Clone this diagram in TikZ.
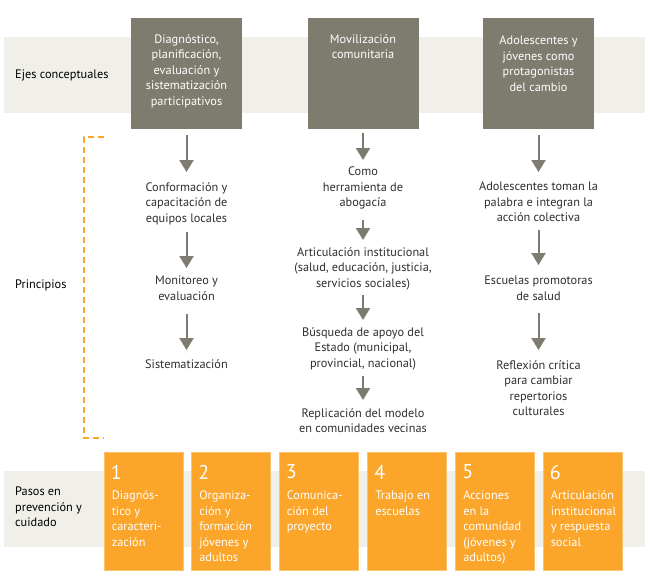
\documentclass[tikz,border=0pt]{standalone}
\usepackage{fontspec}
\setmainfont{PT Sans}
\usetikzlibrary{arrows.meta}
\definecolor{band}{HTML}{F0EFE9}
\definecolor{olive}{HTML}{7D7C6E}
\definecolor{orng}{HTML}{FBA52A}
\definecolor{orngedge}{HTML}{FDC26C}
\definecolor{txt}{HTML}{2E2E2E}
\tikzset{
  darkbox/.style={fill=olive, draw=none, minimum width=111pt, minimum height=111pt, inner sep=0pt},
  boxtext/.style={text=white, align=center, inner sep=0pt, anchor=north, font=\fontsize{12.3}{15.5}\selectfont},
  coltext/.style={text=txt, align=center, inner sep=0pt, anchor=north, font=\fontsize{12.3}{15.5}\selectfont},
  sidetext/.style={text=black, align=left, inner sep=0pt, font=\fontsize{12.3}{15.5}\selectfont},
  stepbox/.style={fill=orng, draw=orngedge, line width=0.8pt, minimum width=79pt, minimum height=118pt, inner sep=0pt},
  stepnum/.style={text=white, inner sep=0pt, anchor=north west, font=\fontsize{20}{20}\selectfont},
  steptext/.style={text=white, align=left, inner sep=0pt, anchor=north west, font=\fontsize{12.3}{15.5}\selectfont},
  arr/.style={draw=olive, line width=2pt, -{Triangle[width=14pt,length=12pt]}},
  bracket/.style={draw=orng, line width=2pt, dash pattern=on 6pt off 4pt}
}
\begin{document}
\begin{tikzpicture}[x=1pt,y=-1pt]
\useasboundingbox (0,0) rectangle (650,579);
% bands
\fill[band] (4,37) rectangle (645,113);
\fill[band] (4,471) rectangle (645,547);
% side labels
\node[sidetext, anchor=west] (l1) at (15,75) {Ejes conceptuales};
\node[sidetext, anchor=west] (l2) at (15,285) {Principios};
\node[sidetext, anchor=north west] (l3) at (15,487) {Pasos en\\prevención y\\cuidado};
% dark boxes
\node[darkbox] (b1) at (186.5,73.5) {};
\node[darkbox] (b2) at (363,73.5) {};
\node[darkbox] (b3) at (538.5,73.5) {};
\node[boxtext] (bt1) at (186.5,34) {Diagnóstico,\\planificación,\\evaluación y\\sistematización\\participativos};
\node[boxtext] (bt2) at (363,34) {Movilización\\comunitaria};
\node[boxtext] (bt3) at (538.5,36) {Adolescentes y\\jóvenes como\\protagonistas\\del cambio};
% column 1
\node[coltext] (c11) at (186.5,182) {Conformación y\\capacitación de\\equipos locales};
\node[coltext] (c12) at (186.5,276) {Monitoreo y\\evaluación};
\node[coltext] (c13) at (186.5,359) {Sistematización};
% column 2
\node[coltext] (c21) at (363,167) {Como\\herramienta de\\abogacía};
\node[coltext] (c22) at (363,247) {Articulación institucional\\(salud, educación, justicia,\\servicios sociales)};
\node[coltext] (c23) at (363,327) {Búsqueda de apoyo del\\Estado (municipal,\\provincial, nacional)};
\node[coltext] (c24) at (363,408) {Replicación del modelo\\en comunidades vecinas};
% column 3
\node[coltext] (c31) at (538.5,182) {Adolescentes toman la\\palabra e integran la\\acción colectiva};
\node[coltext] (c32) at (538.5,276) {Escuelas promotoras\\de salud};
\node[coltext] (c33) at (538.5,360) {Reflexión crítica\\para cambiar\\repertorios\\culturales};
% arrows
\draw[arr, shorten <=6pt, shorten >=10pt] (b1.south) -- (c11.north);
\draw[arr, shorten <=7pt, shorten >=8pt] (c11.south) -- (c12.north);
\draw[arr, shorten <=13pt, shorten >=9pt] (c12.south) -- (c13.north);
\draw[arr, shorten <=4pt, shorten >=7pt] (b2.south) -- (c21.north);
\draw[arr, shorten <=10pt, shorten >=7pt] (c21.south) -- (c22.north);
\draw[arr, shorten <=5pt, shorten >=7pt] (c22.south) -- (c23.north);
\draw[arr, shorten <=6pt, shorten >=8pt] (c23.south) -- (c24.north);
\draw[arr, shorten <=6pt, shorten >=10pt] (b3.south) -- (c31.north);
\draw[arr, shorten <=8pt, shorten >=11pt] (c31.south) -- (c32.north);
\draw[arr, shorten <=12pt, shorten >=10pt] (c32.south) -- (c33.north);
% bracket
\draw[bracket] (104,137) -- (84,137) -- (84,438) -- (104,438);
% steps
\foreach \i/\x/\t in {1/143.5/{Diagnós-\\tico y\\caracteri-\\zación},
                      2/231/{Organiza-\\ción y\\formación\\jóvenes y\\adultos},
                      3/318.5/{Comunica-\\ción del\\proyecto},
                      4/407/{Trabajo en\\escuelas},
                      5/495/{Acciones\\en la\\comunidad\\(jóvenes y\\adultos)},
                      6/582.5/{Articulación\\institucional\\y respuesta\\social}}{
  \node[stepbox] (s\i) at (\x,511) {};
  \node[stepnum] (n\i) at ([xshift=7pt,yshift=-13pt]s\i.north west) {\i};
  \node[steptext] (t\i) at ([xshift=8pt,yshift=-39pt]s\i.north west) {\t};
}
\end{tikzpicture}
\end{document}
